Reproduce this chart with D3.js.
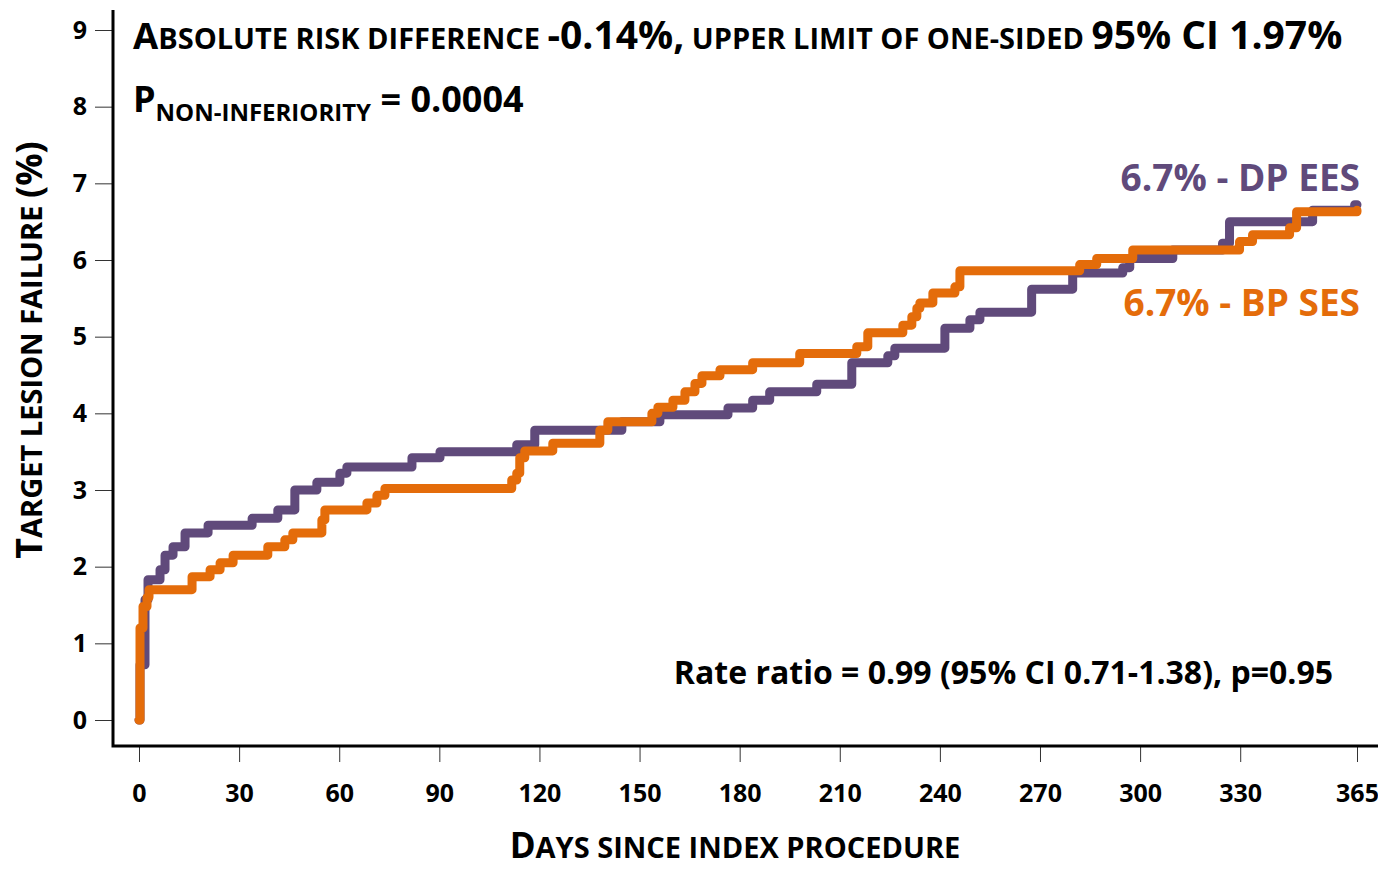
<!DOCTYPE html>
<html lang="en">
<head>
    <meta charset="UTF-8">
    <title>Target lesion failure</title>
    <script src="https://cdn.jsdelivr.net/npm/d3@7"></script>
    <style>
        body { margin: 0; background: #fff; }
        text { font-family: "Open Sans", sans-serif; font-weight: bold; }
    </style>
</head>
<body>
<script type="text/javascript">
    var xTicks = [0, 30, 60, 90, 120, 150, 180, 210, 240, 270, 300, 330, 365];
    var yTicks = [0, 1, 2, 3, 4, 5, 6, 7, 8, 9];

    // DP EES (purple), day of each step and cumulative % after it
    var dpDays = [0, 0.3, 1.8, 2.7, 6.3, 7.8, 10.2, 13.8, 20.7, 33.9, 41.6, 46.7, 53.3, 60.2, 62.3, 81.8,
        90.2, 113.2, 118.6, 144.7, 156.1, 176.5, 183.9, 189, 203.1, 213.6, 224.4, 226.5, 241.5, 249, 252,
        267.5, 279.8, 294.8, 296.9, 309.8, 324.7, 326.8, 351.7, 364.3, 365];
    var dpRisk = [0, 0.72, 1.57, 1.83, 1.96, 2.15, 2.26, 2.44, 2.54, 2.63, 2.74, 3.0, 3.1, 3.22, 3.3, 3.42,
        3.5, 3.59, 3.78, 3.89, 3.98, 4.07, 4.17, 4.28, 4.38, 4.66, 4.75, 4.85, 5.11, 5.22, 5.32,
        5.62, 5.83, 5.9, 6.02, 6.13, 6.22, 6.5, 6.65, 6.72, 6.72];

    // BP SES (orange)
    var bpDays = [0, 0.3, 1.2, 2.4, 3.0, 15.9, 21.3, 24.3, 28.2, 38.6, 43.7, 46.1, 54.8, 55.7, 68.3, 71.3,
        73.7, 111.7, 113.2, 114.1, 115.6, 124, 138.1, 140.5, 153.7, 155.5, 160, 163.6, 166.6, 168.7, 174.1,
        183.9, 198, 215.1, 218.4, 228.9, 231.6, 233.1, 234, 237.9, 244.5, 246, 281.9, 287, 297.8, 329.8,
        333.7, 344.8, 346.9, 365];
    var bpRisk = [0, 1.2, 1.48, 1.6, 1.7, 1.87, 1.96, 2.05, 2.15, 2.26, 2.35, 2.44, 2.61, 2.74, 2.83, 2.93,
        3.02, 3.13, 3.22, 3.42, 3.51, 3.61, 3.78, 3.89, 4.0, 4.08, 4.17, 4.28, 4.39, 4.49, 4.57,
        4.66, 4.78, 4.87, 5.05, 5.15, 5.26, 5.37, 5.44, 5.57, 5.65, 5.86, 5.94, 6.02, 6.13, 6.24,
        6.33, 6.42, 6.63, 6.65];

    var purple = '#604a7b';
    var orange = '#e46c0a';

    var width = 1378;
    var height = 870;
    var svg = d3.select('body').append('svg')
            .attr('width', width)
            .attr('height', height);

    var x = d3.scaleLinear().domain([0, 365]).range([139, 1357]);
    var y = d3.scaleLinear().domain([0, 9]).range([720, 30]);

    // axes
    var yAxis = svg.append('g')
            .attr('transform', 'translate(113,0)')
            .call(d3.axisLeft(y).tickValues(yTicks).tickSize(18).tickPadding(8));
    var xAxis = svg.append('g')
            .attr('transform', 'translate(0,746)')
            .call(d3.axisBottom(x).tickValues(xTicks).tickSize(16).tickPadding(22));
    [yAxis, xAxis].forEach(function (g) {
        g.select('.domain').remove();
        g.selectAll('.tick line').attr('stroke', '#333').attr('stroke-width', 1);
        g.selectAll('.tick text').attr('font-size', 25).attr('fill', '#000')
                .style('font-family', '"Open Sans", sans-serif')
                .style('font-weight', 'bold');
    });
    svg.append('path')
            .attr('d', 'M113,10V746H1378')
            .attr('fill', 'none')
            .attr('stroke', '#000')
            .attr('stroke-width', 3);

    var line = d3.line()
            .x(function (d) { return x(d[0]); })
            .y(function (d) { return y(d[1]); })
            .curve(d3.curveStepAfter);

    svg.append('path')
            .datum(d3.zip(dpDays, dpRisk))
            .attr('d', line)
            .attr('fill', 'none')
            .attr('stroke', purple)
            .attr('stroke-width', 9)
            .attr('stroke-linejoin', 'round')
            .attr('stroke-linecap', 'round');
    svg.append('path')
            .datum(d3.zip(bpDays, bpRisk))
            .attr('d', line)
            .attr('fill', 'none')
            .attr('stroke', orange)
            .attr('stroke-width', 9)
            .attr('stroke-linejoin', 'round')
            .attr('stroke-linecap', 'round');

    // small-caps text built from pieces [text, size]
    function caps(g, parts) {
        parts.forEach(function (p) {
            g.append('tspan').attr('font-size', p[1]).text(p[0]);
        });
        return g;
    }

    caps(svg.append('text').attr('x', 133).attr('y', 49), [
        ['A', 36.5], ['BSOLUTE RISK DIFFERENCE ', 29], ['-0.14%,', 39],
        [' UPPER LIMIT OF ONE-SIDED ', 29], ['95% CI 1.97%', 39]
    ]);

    var pText = svg.append('text').attr('x', 133).attr('y', 112);
    pText.append('tspan').attr('font-size', 36).text('P');
    pText.append('tspan').attr('font-size', 24).attr('dy', 9).text('NON-INFERIORITY');
    pText.append('tspan').attr('font-size', 36).attr('dy', -9).text(' = 0.0004');

    svg.append('text')
            .attr('x', 1360).attr('y', 191)
            .attr('text-anchor', 'end')
            .attr('font-size', 37)
            .attr('fill', purple)
            .text('6.7% - DP EES');
    svg.append('text')
            .attr('x', 1360).attr('y', 316)
            .attr('text-anchor', 'end')
            .attr('font-size', 37)
            .attr('fill', orange)
            .text('6.7% - BP SES');

    svg.append('text')
            .attr('x', 1333).attr('y', 684)
            .attr('text-anchor', 'end')
            .attr('font-size', 32)
            .text('Rate ratio = 0.99 (95% CI 0.71-1.38), p=0.95');

    caps(svg.append('text').attr('x', 735).attr('y', 858).attr('text-anchor', 'middle'), [
        ['D', 35], ['AYS SINCE INDEX PROCEDURE', 29]
    ]);

    caps(svg.append('text')
            .attr('transform', 'translate(42,350) rotate(-90)')
            .attr('text-anchor', 'middle'), [
        ['T', 36], ['ARGET LESION FAILURE ', 29], ['(%)', 36]
    ]);
</script>
</body>
</html>
